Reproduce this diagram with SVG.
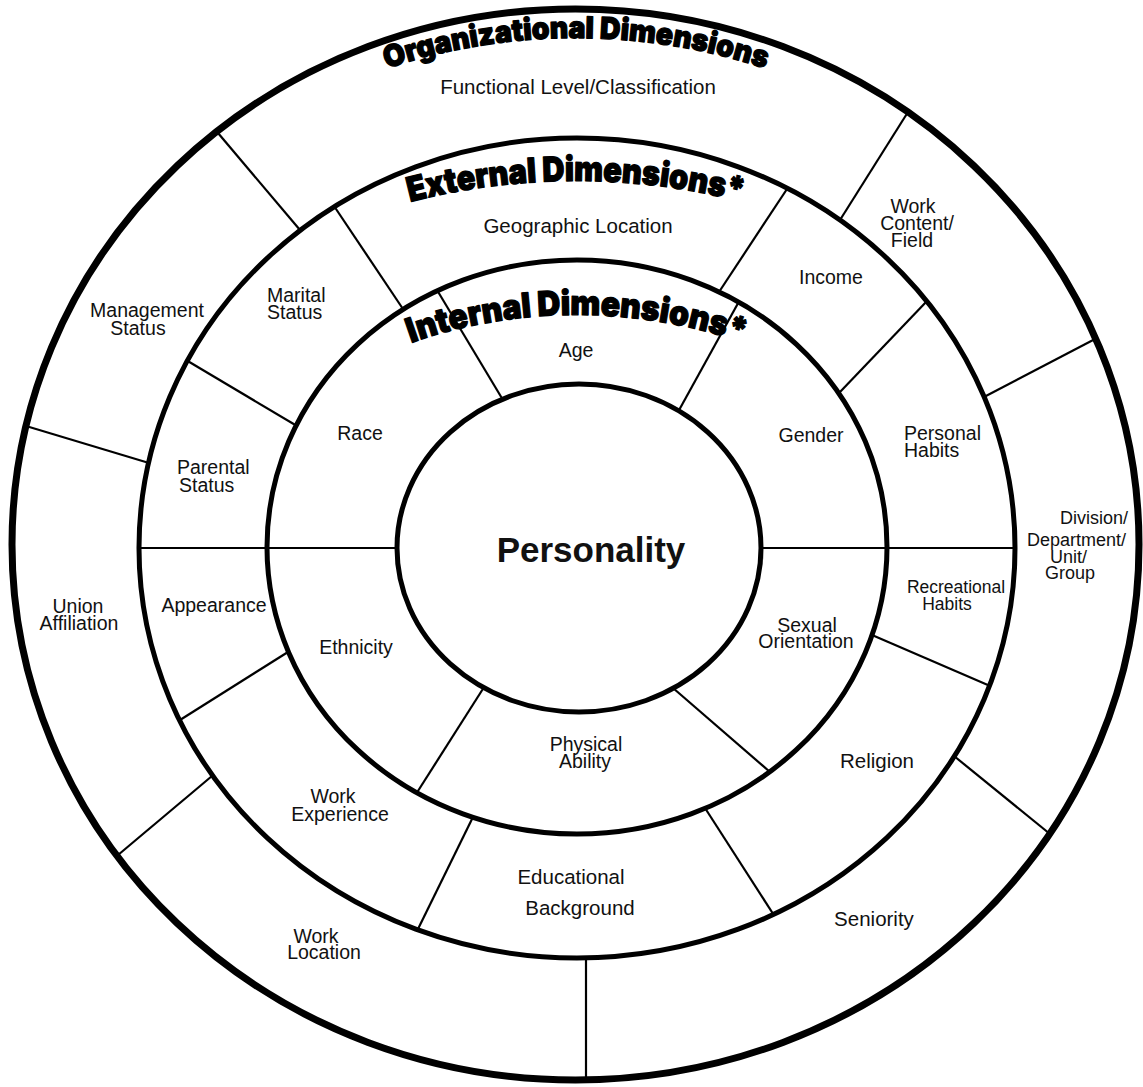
<svg xmlns="http://www.w3.org/2000/svg" width="1143" height="1087" viewBox="0 0 1143 1087">
<defs>
<style>
.ring{fill:none;stroke:#000}
.dv{stroke:#000;stroke-width:2.2;fill:none}
.lbl{font-family:'Liberation Sans',Arial,sans-serif;font-size:19.5px;fill:#111;text-anchor:middle}
.big{font-size:20.5px}
.st{text-anchor:start}
.ttl{font-family:Inter,'DejaVu Sans',sans-serif;font-weight:900;font-size:34px;fill:#000;stroke:#000;stroke-width:1.3;stroke-linejoin:round}
</style>
<path id="arcOrg" d="M176,194 A554,506 0 0 1 976,194"/>
<path id="arcExt" d="M226,287 A500,371 0 0 1 926,287"/>
<path id="arcInt" d="M277,428.5 A350,234 0 0 1 877,428.5"/>
</defs>
<rect width="1143" height="1087" fill="#fff"/>
<g id="rings">
<ellipse class="ring" cx="575.5" cy="544.5" rx="563.5" ry="535.5" stroke-width="7"/>
<ellipse class="ring" cx="577" cy="548" rx="438" ry="410" stroke-width="5"/>
<ellipse class="ring" cx="577" cy="547" rx="310" ry="287" stroke-width="5"/>
<ellipse class="ring" cx="579" cy="548" rx="182" ry="164" stroke-width="5"/>
</g>
<g id="connectors">
<line class="dv" x1="218" y1="133" x2="300" y2="230"/>
<line class="dv" x1="908" y1="112" x2="840" y2="220"/>
<line class="dv" x1="1096" y1="338.5" x2="984" y2="397"/>
<line class="dv" x1="1050" y1="834" x2="954" y2="756"/>
<line class="dv" x1="586" y1="958" x2="586" y2="1080"/>
<line class="dv" x1="118" y1="855" x2="212" y2="776"/>
<line class="dv" x1="26" y1="426" x2="149" y2="463"/>
<line class="dv" x1="787" y1="189" x2="719" y2="292"/>
<line class="dv" x1="927" y1="301" x2="840" y2="392"/>
<line class="dv" x1="887" y1="548" x2="1015" y2="548"/>
<line class="dv" x1="872" y1="635" x2="989" y2="685.5"/>
<line class="dv" x1="705" y1="808" x2="773.5" y2="914.5"/>
<line class="dv" x1="473" y1="817" x2="418" y2="929"/>
<line class="dv" x1="288" y1="652" x2="180" y2="720"/>
<line class="dv" x1="139" y1="548" x2="267" y2="548"/>
<line class="dv" x1="186" y1="360" x2="297" y2="426"/>
<line class="dv" x1="334" y1="206" x2="403" y2="309"/>
<line class="dv" x1="437" y1="290" x2="503" y2="400"/>
<line class="dv" x1="738.7" y1="302" x2="678" y2="412"/>
<line class="dv" x1="761" y1="548" x2="887" y2="548"/>
<line class="dv" x1="673" y1="688" x2="770" y2="772"/>
<line class="dv" x1="483.5" y1="688" x2="417" y2="792.5"/>
<line class="dv" x1="267" y1="548" x2="399" y2="548"/>
</g>
<g id="titles">
<text class="ttl" style="font-size:30px"><textPath href="#arcOrg" startOffset="50%" text-anchor="middle" textLength="385" lengthAdjust="spacingAndGlyphs">Organizational Dimensions</textPath></text>
<text class="ttl"><textPath href="#arcExt" startOffset="50%" text-anchor="middle" textLength="335" lengthAdjust="spacingAndGlyphs">External Dimensions*</textPath></text>
<text class="ttl"><textPath href="#arcInt" startOffset="50%" text-anchor="middle" textLength="338" lengthAdjust="spacingAndGlyphs">Internal Dimensions*</textPath></text>
</g>
<g id="n-functional"><text class="lbl big" x="578" y="94">Functional Level/Classification</text></g>
<g id="n-geographic"><text class="lbl big" x="578" y="233">Geographic Location</text></g>
<g id="n-age"><text class="lbl" x="576" y="357">Age</text></g>
<g id="n-marital"><text class="lbl st" x="267" y="302">Marital</text><text class="lbl st" x="267" y="319">Status</text></g>
<g id="n-management"><text class="lbl" x="147" y="317">Management</text><text class="lbl" x="138" y="335">Status</text></g>
<g id="n-workcontent"><text class="lbl" x="913" y="213">Work</text><text class="lbl" x="917" y="230">Content/</text><text class="lbl" x="912" y="247">Field</text></g>
<g id="n-income"><text class="lbl" x="831" y="284">Income</text></g>
<g id="n-gender"><text class="lbl" x="811" y="442">Gender</text></g>
<g id="n-race"><text class="lbl" x="360" y="440">Race</text></g>
<g id="n-personal"><text class="lbl st" x="904" y="440">Personal</text><text class="lbl st" x="904" y="457">Habits</text></g>
<g id="n-parental"><text class="lbl st" x="177" y="474">Parental</text><text class="lbl st" x="179" y="492">Status</text></g>
<g id="n-personality"><text class="lbl" x="591" y="562" style="font-weight:bold;font-size:35px">Personality</text></g>
<g id="n-division"><text class="lbl st" x="1060" y="524" style="font-size:18px">Division/</text><text class="lbl st" x="1027" y="546" style="font-size:18px">Department/</text><text class="lbl st" x="1050" y="563" style="font-size:18px">Unit/</text><text class="lbl st" x="1045" y="579" style="font-size:18px">Group</text></g>
<g id="n-recreational"><text class="lbl" x="956" y="593" style="font-size:17.5px">Recreational</text><text class="lbl" x="947" y="610" style="font-size:17.5px">Habits</text></g>
<g id="n-appearance"><text class="lbl" x="214" y="612">Appearance</text></g>
<g id="n-union"><text class="lbl" x="78" y="613">Union</text><text class="lbl" x="79" y="630">Affiliation</text></g>
<g id="n-ethnicity"><text class="lbl" x="356" y="654">Ethnicity</text></g>
<g id="n-sexual"><text class="lbl" x="807" y="632">Sexual</text><text class="lbl" x="806" y="648">Orientation</text></g>
<g id="n-physical"><text class="lbl" x="586" y="751">Physical</text><text class="lbl" x="585" y="768">Ability</text></g>
<g id="n-religion"><text class="lbl big" x="877" y="768">Religion</text></g>
<g id="n-workexp"><text class="lbl" x="333" y="803">Work</text><text class="lbl" x="340" y="821">Experience</text></g>
<g id="n-educational"><text class="lbl big" x="571" y="884">Educational</text><text class="lbl big" x="580" y="915">Background</text></g>
<g id="n-seniority"><text class="lbl big" x="874" y="926">Seniority</text></g>
<g id="n-worklocation"><text class="lbl" x="316" y="943">Work</text><text class="lbl" x="324" y="959">Location</text></g>
</svg>
